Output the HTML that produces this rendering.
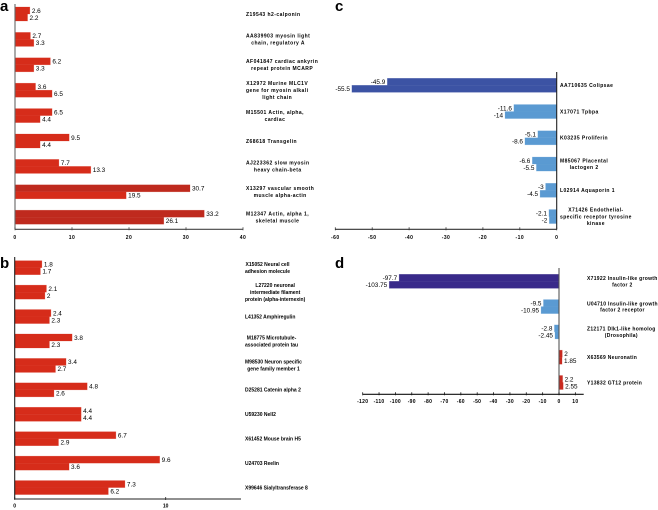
<!DOCTYPE html>
<html>
<head>
<meta charset="utf-8">
<style>
html,body{margin:0;padding:0;background:#fff;width:658px;height:510px;overflow:hidden}
svg{display:block;filter:blur(.35px)}
text{font-family:"Liberation Sans",sans-serif}
</style>
</head>
<body>
<svg id="figure" width="658" height="510" viewBox="0 0 658 510" xmlns="http://www.w3.org/2000/svg">
<text x="0" y="11" font-size="15" font-weight="bold">a</text>
<text x="0" y="268" font-size="15" font-weight="bold">b</text>
<text x="335" y="11" font-size="15" font-weight="bold">c</text>
<text x="335" y="268" font-size="15" font-weight="bold">d</text>
</svg>
<script>
const categoriesA = [
  ["Z19543 h2-calponin"],
  ["AA839903 myosin light","chain, regulatory A"],
  ["AF041847 cardiac ankyrin","repeat protein MCARP"],
  ["X12972 Murine MLC1V","gene for myosin alkali","light chain"],
  ["M15501 Actin, alpha,","cardiac"],
  ["Z68618 Transgelin"],
  ["AJ223362 slow myosin","heavy chain-beta"],
  ["X13297 vascular smooth","muscle alpha-actin"],
  ["M12347 Actin, alpha 1,","skeletal muscle"]
];
const seriesA1 = [2.6,2.7,6.2,3.6,6.5,9.5,7.7,30.7,33.2];
const seriesA2 = [2.2,3.3,3.3,6.5,4.4,4.4,13.3,19.5,26.1];
const ticksA = [0,10,20,30,40];

const categoriesB = [
  ["X15052 Neural cell","adhesion molecule"],
  ["L27220 neuronal","intermediate filament","protein (alpha-internexin)"],
  ["L41352 Amphiregulin"],
  ["M18775 Microtubule-","associated protein tau"],
  ["M98530 Neuron specific","gene family member 1"],
  ["D25281 Catenin alpha 2"],
  ["U59230 Nell2"],
  ["X61452 Mouse brain H5"],
  ["U24703 Reelin"],
  ["X99646 Sialyltransferase 8"]
];
const seriesB1 = [1.8,2.1,2.4,3.8,3.4,4.8,4.4,6.7,9.6,7.3];
const seriesB2 = [1.7,2,2.3,2.3,2.7,2.6,4.4,2.9,3.6,6.2];
const ticksB = [0,10];

const categoriesC = [
  ["AA710635 Colipsae"],
  ["X17071 Tpbpa"],
  ["K03235 Proliferin"],
  ["M85067 Placental","lactogen 2"],
  ["L02914 Aquaporin 1"],
  ["X71426 Endothelial-","specific receptor tyrosine","kinase"]
];
const seriesC1 = [-45.9,-11.6,-5.1,-6.6,-3,-2.1];
const seriesC2 = [-55.5,-14,-8.6,-5.5,-4.5,-2];
const ticksC = [-60,-50,-40,-30,-20,-10,0];

const categoriesD = [
  ["X71922 Insulin-like growth","factor 2"],
  ["U04710 Insulin-like growth","factor 2 receptor"],
  ["Z12171 Dlk1-like homolog","(Drosophila)"],
  ["X63569 Neuronatin"],
  ["Y13832 GT12 protein"]
];
const seriesD1 = [-97.7,-9.5,-2.8,2,2.2];
const seriesD2 = [-103.75,-10.95,-2.45,1.85,2.55];
const ticksD = [-120,-110,-100,-90,-80,-70,-60,-50,-40,-30,-20,-10,0,10];

const svg = document.getElementById('figure');
const NS = 'http://www.w3.org/2000/svg';

function make(tag, attrs, parent) {
  const el = document.createElementNS(NS, tag);
  for (const k in attrs) el.setAttribute(k, attrs[k]);
  parent.appendChild(el);
  return el;
}

function colorA(v) { return v >= 25 ? '#bf2a1e' : '#d62c1a'; }
function colorC(v) { return v <= -30 ? '#3c53a4' : '#5a9ad2'; }
function colorD(v) { return v > 0 ? '#c92a20' : (v <= -30 ? '#392a8a' : '#5a9ad2'); }

function drawPanel(p) {
  const g = make('g', {}, svg);
  
  
  const xScale = v => p.x0 + v * p.unit;
  const rowTop = i => p.top + i * p.step;

  p.cats.forEach((lines, i) => {
    [p.s1[i], p.s2[i]].forEach((v, j) => {
      const y = rowTop(i) + j * p.barH;
      const x1 = xScale(v);
      const bar = make('rect', {
        x: Math.min(x1, p.x0), y: y,
        width: Math.abs(x1 - p.x0), height: p.barH,
        fill: p.color(v), stroke: p.color(v), 'stroke-opacity': .35, 'stroke-width': .6
      }, g);
      
      
      const label = make('text', {
        x: v < 0 ? x1 - 2 : x1 + 2, y: y + p.barH / 2 + 2.3,
        'font-size': 6.4, fill: '#000',
        'text-anchor': v < 0 ? 'end' : 'start'
      }, g);
      label.textContent = String(v);
      
      
    });

    const cy = rowTop(i) + p.barH;
    const texts = lines.map((line, k) => {
      const t = make('text', {
        y: cy + (k - (lines.length - 1) / 2) * p.lineH + 1.8,
        'font-size': p.catSize, 'font-weight': 'bold', fill: '#000',
        'letter-spacing': p.catSpacing
      }, g);
      t.textContent = line;
      
      
      return t;
    });
    const widths = texts.map(t => t.getComputedTextLength());
    const maxW = Math.max.apply(null, widths);
    texts.forEach((t, k) => t.setAttribute('x', p.labelX + (maxW - widths[k]) / 2));
  });

  const yAxis = make('line', {
    x1: p.x0, x2: p.x0, y1: p.axisTop, y2: p.axisY,
    stroke: p.axisColor, 'stroke-width': 1.1
  }, g);
  
  

  const xAxis = make('line', {
    x1: p.axisStart, x2: p.axisEnd, y1: p.axisY, y2: p.axisY,
    stroke: p.axisBottomColor, 'stroke-width': 1.1
  }, g);
  
  

  p.ticks.forEach(v => {
    const tick = make('line', {
      x1: xScale(v), x2: xScale(v), y1: p.axisY - 2, y2: p.axisY + 1,
      stroke: p.axisBottomColor, 'stroke-width': .8
    }, g);
    
    
    const tl = make('text', {
      x: xScale(v), y: p.axisY + p.tickOffset,
      'font-size': p.catSize, 'font-weight': 'bold', fill: '#000',
      'text-anchor': 'middle', 'letter-spacing': p.catSpacing
    }, g);
    tl.textContent = String(v);
    
    
  });
}

drawPanel({name:'panel-a-chart', cats:categoriesA, s1:seriesA1, s2:seriesA2, ticks:ticksA,
  x0:15, unit:5.7, top:7, step:25.4, barH:7, axisTop:4, axisY:229.3, axisStart:15, axisEnd:243,
  labelX:246, lineH:7, catSize:5, catSpacing:.45, tickOffset:9.5, color:colorA, axisColor:'#666', axisBottomColor:'#444'});
drawPanel({name:'panel-b-chart', cats:categoriesB, s1:seriesB1, s2:seriesB2, ticks:ticksB,
  x0:14.7, unit:15.1, top:260.7, step:24.43, barH:7, axisTop:257, axisY:499, axisStart:14.7, axisEnd:241,
  labelX:245, lineH:7, catSize:5, catSpacing:0, tickOffset:8.5, color:colorA, axisColor:'#222', axisBottomColor:'#222'});
drawPanel({name:'panel-c-chart', cats:categoriesC, s1:seriesC1, s2:seriesC2, ticks:ticksC,
  x0:556.7, unit:3.69, top:78.3, step:26.25, barH:7, axisTop:72, axisY:229.3, axisStart:335.3, axisEnd:556.7,
  labelX:560, lineH:6.7, catSize:5, catSpacing:.42, tickOffset:9.5, color:colorC, axisColor:'#222', axisBottomColor:'#333'});
drawPanel({name:'panel-d-chart', cats:categoriesD, s1:seriesD1, s2:seriesD2, ticks:ticksD,
  x0:559, unit:1.636, top:274.3, step:25.3, barH:7, axisTop:268, axisY:394.3, axisStart:362.7, axisEnd:583.7,
  labelX:587, lineH:6.3, catSize:5, catSpacing:.3, tickOffset:8.5, color:colorD, axisColor:'#555', axisBottomColor:'#111'});
</script>
</body>
</html>
